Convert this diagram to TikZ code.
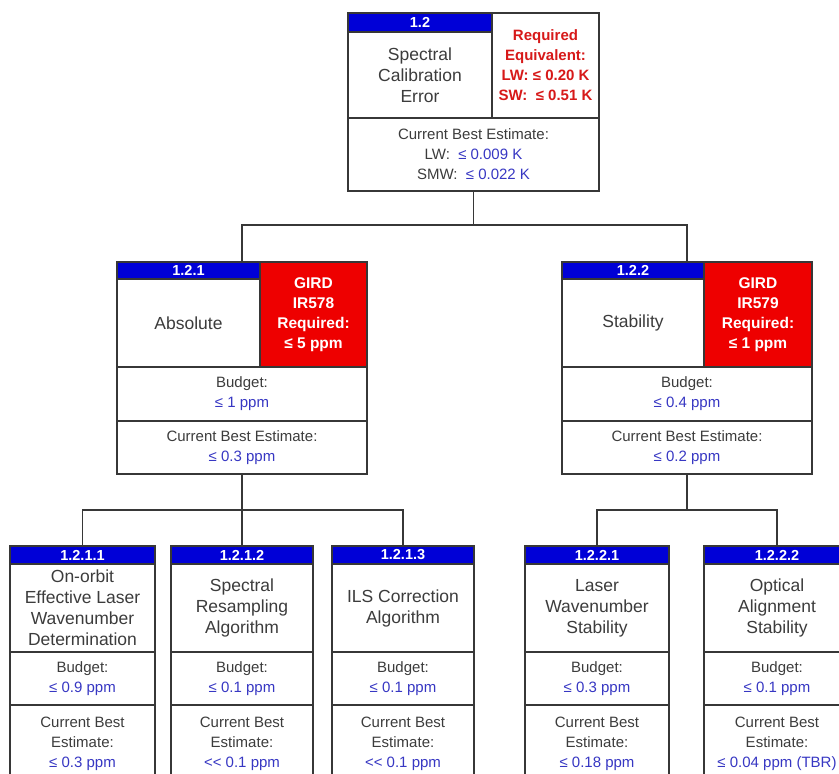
\documentclass[tikz,border=0pt]{standalone}
\usepackage{fontspec}
\setmainfont{Liberation Sans}
\definecolor{hdrblue}{RGB}{0,0,215}
\definecolor{cellred}{RGB}{238,0,0}
\definecolor{reqred}{RGB}{215,25,25}
\definecolor{valblue}{RGB}{55,55,195}
\definecolor{txtgray}{RGB}{60,60,60}
\definecolor{linegray}{RGB}{55,55,55}
\tikzset{
  cellbase/.style={draw=linegray, line width=1.4pt, inner sep=0pt, outer sep=0pt, anchor=north west, align=center},
  hdr/.style={cellbase, fill=hdrblue, text=white, font=\fontsize{14.5}{15}\selectfont\bfseries},
  ttl/.style={cellbase, fill=white, text=txtgray, font=\fontsize{17.5}{21}\selectfont},
  lbl/.style={cellbase, fill=white, text=txtgray, font=\fontsize{15}{20}\selectfont},
  gird/.style={cellbase, fill=cellred, text=white, font=\fontsize{15.5}{20}\selectfont\bfseries},
  reqcell/.style={cellbase, fill=white, text=reqred, font=\fontsize{15}{20}\selectfont\bfseries},
  outline/.style={cellbase, fill=none},
  conn/.style={draw=linegray, line width=1.4pt}
}
\newcommand{\cellbox}[7]{%
  \node[#6, minimum width={#4pt-#2pt}, minimum height={#5pt-#3pt}] (#1) at (#2,#3) {#7};}
\newcommand{\vb}[1]{\textcolor{valblue}{#1}}
\newcommand{\lowbox}[7]{%
  \cellbox{#1h}{#2}{546}{#3}{564}{hdr}{#4}
  \cellbox{#1t}{#2}{564}{#3}{652}{ttl}{#5}
  \cellbox{#1b}{#2}{652}{#3}{705}{lbl}{Budget:\\\vb{#6}}
  \cellbox{#1c}{#2}{705}{#3}{782}{lbl}{Current Best\\Estimate:\\\vb{#7}}
  \cellbox{#1}{#2}{546}{#3}{782}{outline}{}
}
\begin{document}
\begin{tikzpicture}[x=1pt,y=-1pt]
\useasboundingbox (0,0) rectangle (839,774);
\clip (0,0) rectangle (839,774);
% top box 1.2
\cellbox{th}{348}{13}{492}{32}{hdr}{1.2}
\cellbox{tt}{348}{32}{492}{118}{ttl}{Spectral\\Calibration\\Error}
\cellbox{tr}{492}{13}{599}{118}{reqcell}{Required\\Equivalent:\\LW: ≤ 0.20 K\\SW: \ ≤ 0.51 K}
\cellbox{tc}{348}{118}{599}{191}{lbl}{Current Best Estimate:\\LW: \ \vb{≤ 0.009 K}\\SMW: \ \vb{≤ 0.022 K}}
\cellbox{t12}{348}{13}{599}{191}{outline}{}
% 1.2.1
\cellbox{m1h}{117}{262}{260}{279}{hdr}{1.2.1}
\cellbox{m1t}{117}{279}{260}{367}{ttl}{Absolute}
\cellbox{m1r}{260}{262}{367}{367}{gird}{GIRD\\IR578\\Required:\\≤ 5 ppm}
\cellbox{m1b}{117}{367}{367}{421}{lbl}{Budget:\\\vb{≤ 1 ppm}}
\cellbox{m1c}{117}{421}{367}{474}{lbl}{Current Best Estimate:\\\vb{≤ 0.3 ppm}}
\cellbox{m121}{117}{262}{367}{474}{outline}{}
% 1.2.2
\cellbox{m2h}{562}{262}{704}{279}{hdr}{1.2.2}
\cellbox{m2t}{562}{279}{704}{367}{ttl}{Stability}
\cellbox{m2r}{704}{262}{812}{367}{gird}{GIRD\\IR579\\Required:\\≤ 1 ppm}
\cellbox{m2b}{562}{367}{812}{421}{lbl}{Budget:\\\vb{≤ 0.4 ppm}}
\cellbox{m2c}{562}{421}{812}{474}{lbl}{Current Best Estimate:\\\vb{≤ 0.2 ppm}}
\cellbox{m122}{562}{262}{812}{474}{outline}{}
% bottom row
\lowbox{a}{10}{155}{1.2.1.1}{On-orbit\\Effective Laser\\Wavenumber\\Determination}{≤ 0.9 ppm}{≤ 0.3 ppm}
\lowbox{b}{171}{313}{1.2.1.2}{Spectral\\Resampling\\Algorithm}{≤ 0.1 ppm}{<{}< 0.1 ppm}
\lowbox{c}{332}{474}{1.2.1.3}{ILS Correction\\Algorithm}{≤ 0.1 ppm}{<{}< 0.1 ppm}
\lowbox{d}{525}{669}{1.2.2.1}{Laser\\Wavenumber\\Stability}{≤ 0.3 ppm}{≤ 0.18 ppm}
\lowbox{e}{704}{850}{1.2.2.2}{Optical\\Alignment\\Stability}{≤ 0.1 ppm}{≤ 0.04 ppm (TBR)}
% connectors
\coordinate (j1) at (t12.south |- 0,225);
\draw[conn] (t12.south) -- (j1);
\draw[conn] (m121.north) |- (j1) -| (m122.north);
\coordinate (j2) at (m121.south |- 0,510);
\draw[conn] (m121.south) -- (b.north);
\draw[conn] (a.north) |- (j2) -| (c.north);
\coordinate (j3) at (m122.south |- 0,510);
\draw[conn] (m122.south) -- (j3);
\draw[conn] (d.north) |- (j3) -| (e.north);
\end{tikzpicture}
\end{document}
